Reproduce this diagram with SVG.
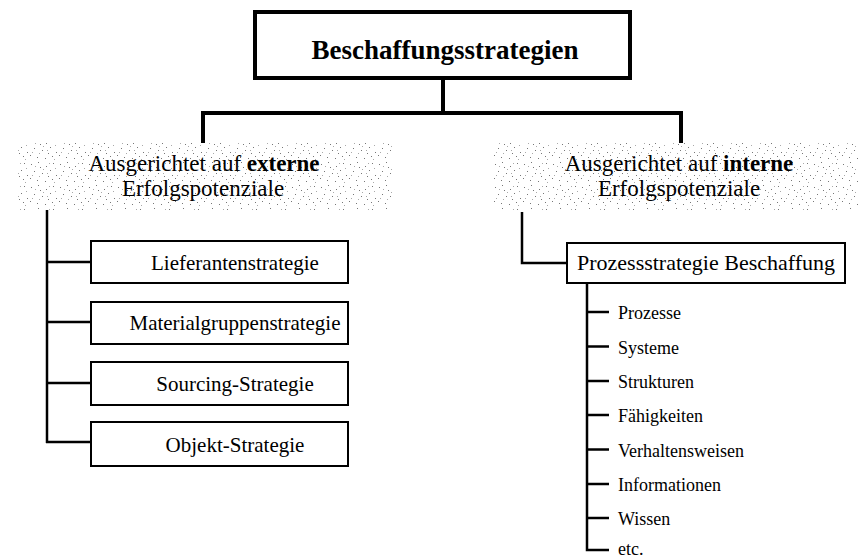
<svg xmlns="http://www.w3.org/2000/svg" width="858" height="560" viewBox="0 0 858 560">
<style>
text{font-family:"Liberation Serif","Times New Roman",serif;fill:#000}
.box{fill:#fff;stroke:#000;stroke-width:2}
.t{font-size:21px;text-anchor:middle}
.h{font-size:23px;text-anchor:middle}
.i{font-size:18px}
.thick{stroke:#000;stroke-width:4;fill:none}
.thin{stroke:#000;stroke-width:2.5;fill:none}
</style>
<defs>
<pattern id="dots" width="29" height="23" patternUnits="userSpaceOnUse">
<rect width="29" height="23" fill="#fff"/>
<g fill="#777">
<rect x="2" y="3" width="1" height="1"/><rect x="9" y="1" width="1" height="1"/><rect x="17" y="5" width="1" height="1"/>
<rect x="24" y="2" width="1" height="1"/><rect x="5" y="10" width="1" height="1"/><rect x="13" y="12" width="1" height="1"/>
<rect x="21" y="9" width="1" height="1"/><rect x="27" y="14" width="1" height="1"/><rect x="1" y="17" width="1" height="1"/>
<rect x="8" y="19" width="1" height="1"/><rect x="16" y="20" width="1" height="1"/><rect x="23" y="18" width="1" height="1"/>
<rect x="11" y="6" width="1" height="1"/><rect x="19" y="15" width="1" height="1"/>
</g>
<g fill="#aaa">
<rect x="6" y="5" width="1" height="1"/><rect x="14" y="8" width="1" height="1"/><rect x="26" y="7" width="1" height="1"/>
<rect x="3" y="14" width="1" height="1"/><rect x="10" y="15" width="1" height="1"/><rect x="25" y="21" width="1" height="1"/>
<rect x="18" y="12" width="1" height="1"/><rect x="20" y="2" width="1" height="1"/>
</g>
</pattern>
</defs>
<g id="connectors">
<line class="thick" x1="443" y1="80" x2="443" y2="113"/>
<line class="thick" x1="201" y1="113" x2="683" y2="113"/>
<line class="thick" x1="203" y1="113" x2="203" y2="143"/>
<line class="thick" x1="681" y1="113" x2="681" y2="143"/>
<line class="thin" x1="47" y1="210" x2="47" y2="443"/>
<line class="thin" x1="46" y1="262" x2="91" y2="262"/>
<line class="thin" x1="46" y1="322" x2="91" y2="322"/>
<line class="thin" x1="46" y1="383" x2="91" y2="383"/>
<line class="thin" x1="46" y1="442" x2="91" y2="442"/>
<polyline class="thin" points="522,212 522,263 567,263"/>
<polyline class="thin" points="587,283 587,550 609,550"/>
<line class="thin" x1="587" y1="312" x2="609" y2="312"/>
<line class="thin" x1="587" y1="346.5" x2="609" y2="346.5"/>
<line class="thin" x1="587" y1="381" x2="609" y2="381"/>
<line class="thin" x1="587" y1="415" x2="609" y2="415"/>
<line class="thin" x1="587" y1="449.5" x2="609" y2="449.5"/>
<line class="thin" x1="587" y1="484" x2="609" y2="484"/>
<line class="thin" x1="587" y1="518" x2="609" y2="518"/>
</g>
<g id="root">
<rect x="255" y="12" width="375" height="66" fill="#fff" stroke="#000" stroke-width="4"/>
<text x="445" y="59" font-size="27" font-weight="bold" text-anchor="middle">Beschaffungsstrategien</text>
</g>
<g id="extern">
<rect x="18" y="143" width="374" height="67" fill="url(#dots)"/>
<text class="h" x="204" y="171">Ausgerichtet auf <tspan font-weight="bold">externe</tspan></text>
<text class="h" x="203" y="196">Erfolgspotenziale</text>
</g>
<g id="intern">
<rect x="493" y="143" width="365" height="67" fill="url(#dots)"/>
<text class="h" x="679" y="171">Ausgerichtet auf <tspan font-weight="bold">interne</tspan></text>
<text class="h" x="679" y="196">Erfolgspotenziale</text>
</g>
<g id="lieferanten">
<rect class="box" x="91" y="241" width="257" height="42"/>
<text class="t" x="235" y="270">Lieferantenstrategie</text>
</g>
<g id="materialgruppen">
<rect class="box" x="91" y="302" width="257" height="42"/>
<text class="t" x="235" y="330">Materialgruppenstrategie</text>
</g>
<g id="sourcing">
<rect class="box" x="91" y="362" width="257" height="43"/>
<text class="t" x="235" y="391">Sourcing-Strategie</text>
</g>
<g id="objekt">
<rect class="box" x="91" y="422" width="257" height="44"/>
<text class="t" x="235" y="452">Objekt-Strategie</text>
</g>
<g id="prozessstrategie">
<rect class="box" x="567" y="243" width="278" height="40"/>
<text x="706" y="270" font-size="22" text-anchor="middle">Prozessstrategie Beschaffung</text>
</g>
<g id="items">
<text class="i" x="618" y="319">Prozesse</text>
<text class="i" x="618" y="353.5">Systeme</text>
<text class="i" x="618" y="388">Strukturen</text>
<text class="i" x="618" y="422">Fähigkeiten</text>
<text class="i" x="618" y="456.5">Verhaltensweisen</text>
<text class="i" x="618" y="491">Informationen</text>
<text class="i" x="618" y="525">Wissen</text>
<text class="i" x="618" y="555">etc.</text>
</g>
</svg>
